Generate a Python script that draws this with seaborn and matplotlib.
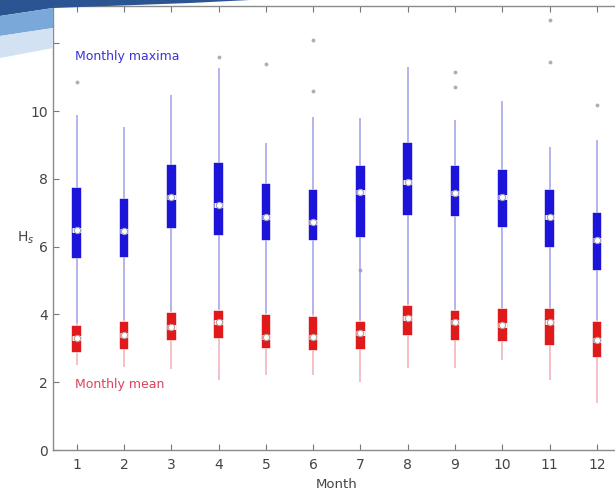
import numpy as np
import pandas as pd
import matplotlib
matplotlib.use("Agg")
import matplotlib.pyplot as plt
import seaborn as sns
from matplotlib.patches import Polygon

months = list(range(1, 13))

# Monthly maxima (Hs) box statistics
max_lo  = [3.75, 3.85, 4.10, 4.15, 4.05, 4.00, 3.85, 4.30, 4.15, 4.20, 4.20, 3.85]
max_q1  = [5.66, 5.70, 6.55, 6.34, 6.19, 6.19, 6.29, 6.93, 6.90, 6.58, 6.00, 5.30]
max_med = [6.49, 6.46, 7.46, 7.23, 6.87, 6.73, 7.61, 7.90, 7.58, 7.46, 6.87, 6.19]
max_q3  = [7.73, 7.40, 8.41, 8.47, 7.85, 7.67, 8.38, 9.05, 8.38, 8.26, 7.67, 6.99]
max_hi  = [9.88, 9.53, 10.47, 11.27, 9.05, 9.83, 9.79, 11.30, 9.73, 10.30, 8.94, 9.14]

# Monthly mean (Hs) box statistics
mean_lo  = [2.50, 2.45, 2.40, 2.06, 2.20, 2.20, 2.00, 2.42, 2.42, 2.65, 2.06, 1.39]
mean_q1  = [2.89, 2.98, 3.24, 3.30, 3.00, 2.95, 2.98, 3.39, 3.24, 3.22, 3.10, 2.74]
mean_med = [3.30, 3.39, 3.62, 3.78, 3.33, 3.33, 3.45, 3.89, 3.78, 3.69, 3.78, 3.24]
mean_q3  = [3.66, 3.78, 4.04, 4.10, 3.98, 3.93, 3.78, 4.25, 4.10, 4.16, 4.16, 3.78]
mean_hi  = [4.40, 4.50, 4.70, 4.80, 4.60, 4.60, 4.50, 4.90, 4.70, 4.70, 4.80, 4.50]

# Outliers of the monthly maxima
out_month = [1, 4, 5, 6, 6, 7, 9, 9, 11, 11, 12]
out_value = [10.86, 11.6, 11.4, 12.1, 10.6, 5.3, 11.15, 10.7, 12.7, 11.45, 10.18]

xtick_labels = [str(m) for m in months]
yticks = [0, 2, 4, 6, 8, 10, 12]


def long_form(lo, q1, med, q3, hi):
    rows = []
    for i, m in enumerate(months):
        for v in (lo[i], q1[i], med[i], q3[i], hi[i]):
            rows.append({"month": m, "Hs": v})
    return pd.DataFrame(rows)


df_max = long_form(max_lo, max_q1, max_med, max_q3, max_hi)
df_mean = long_form(mean_lo, mean_q1, mean_med, mean_q3, mean_hi)
df_out = pd.DataFrame({"month": out_month, "Hs": out_value})
df_med_max = pd.DataFrame({"month": months, "Hs": max_med})
df_med_mean = pd.DataFrame({"month": months, "Hs": mean_med})

sns.set_style("white")
plt.rcParams["font.family"] = ["DejaVu Sans"]

W, H = 615, 498
fig = plt.figure(figsize=(W / 100, H / 100), dpi=100, facecolor="white")

# decorative slide swoosh in top-left corner (figure pixel coords from top-left)
def px(pts):
    return [(x / W, 1 - y / H) for x, y in pts]

fig.patches.append(Polygon(px([(0, 0), (250, 0), (190, 3), (53, 8), (0, 16)]),
                           closed=True, transform=fig.transFigure,
                           facecolor="#2a5592", edgecolor="none", zorder=0))
fig.patches.append(Polygon(px([(0, 16), (53, 8), (53, 28), (0, 36)]),
                           closed=True, transform=fig.transFigure,
                           facecolor="#7aa8d8", edgecolor="none", zorder=0))
fig.patches.append(Polygon(px([(0, 36), (53, 28), (53, 48), (0, 58)]),
                           closed=True, transform=fig.transFigure,
                           facecolor="#d2e2f2", edgecolor="none", zorder=0))

left = 53 / W
bottom = 48 / H
width = (620.6 - 53) / W
height = (450 - 6) / H
ax = fig.add_axes([left, bottom, width, height])
ax.set_facecolor("white")

order = months
box_w = 0.18

# mean first, maxima on top (maxima whiskers reach down to the mean boxes)
sns.boxplot(data=df_mean, x="month", y="Hs", order=order, ax=ax,
            color="#e01a1a", width=box_w, whis=(0, 100), fliersize=0,
            showcaps=False, linewidth=0,
            boxprops=dict(facecolor="#e01a1a", edgecolor="#e01a1a", linewidth=0.3),
            whiskerprops=dict(color="#f4c0c8", linewidth=1.4),
            medianprops=dict(color="white", linewidth=3.5))

sns.boxplot(data=df_max, x="month", y="Hs", order=order, ax=ax,
            color="#1c14d8", width=box_w, whis=(0, 100), fliersize=0,
            showcaps=False, linewidth=0,
            boxprops=dict(facecolor="#1c14d8", edgecolor="#1c14d8", linewidth=0.3),
            whiskerprops=dict(color="#b4b4ee", linewidth=1.4),
            medianprops=dict(color="white", linewidth=3.5))

sns.stripplot(data=df_med_max, x="month", y="Hs", order=order, ax=ax,
              jitter=False, marker="o", size=4.5, color="white",
              edgecolor="#a0a0b4", linewidth=0.8, zorder=5)
sns.stripplot(data=df_med_mean, x="month", y="Hs", order=order, ax=ax,
              jitter=False, marker="o", size=4.5, color="white",
              edgecolor="#b4a0a0", linewidth=0.8, zorder=5)

sns.stripplot(data=df_out, x="month", y="Hs", order=order, ax=ax,
              jitter=False, marker="o", size=2.8, color="#9a9aa8",
              linewidth=0, alpha=0.8, zorder=4)

ax.set_xlim(-0.5, 11.5)
ax.set_ylim(0, 13.1)
ax.set_xticks(range(12))
ax.set_xticklabels(xtick_labels)
ax.set_yticks(yticks)
ax.set_yticklabels([str(v) for v in yticks])
ax.tick_params(direction="in", length=4, width=0.8, colors="#777777",
               labelcolor="#444444", labelsize=10,
               top=True, right=True, bottom=True, left=True)
ax.tick_params(axis="x", pad=6)
for s in ax.spines.values():
    s.set_color("#8a8a8a")
    s.set_linewidth(1.0)
    s.set_visible(True)

ax.set_xlabel("Month", fontsize=9.5, color="#444444", labelpad=4)
ax.set_ylabel("H$_s$", fontsize=10, color="#444444", rotation=0, labelpad=14)
ax.yaxis.set_label_coords(-0.048, 0.46)

ax.text(-0.04, 11.6, "Monthly maxima", color="#3a34d8", fontsize=9,
        va="center", ha="left")
ax.text(-0.04, 1.92, "Monthly mean", color="#e0405a", fontsize=9,
        va="center", ha="left")

fig.savefig("out.png", dpi=100, facecolor="white")
